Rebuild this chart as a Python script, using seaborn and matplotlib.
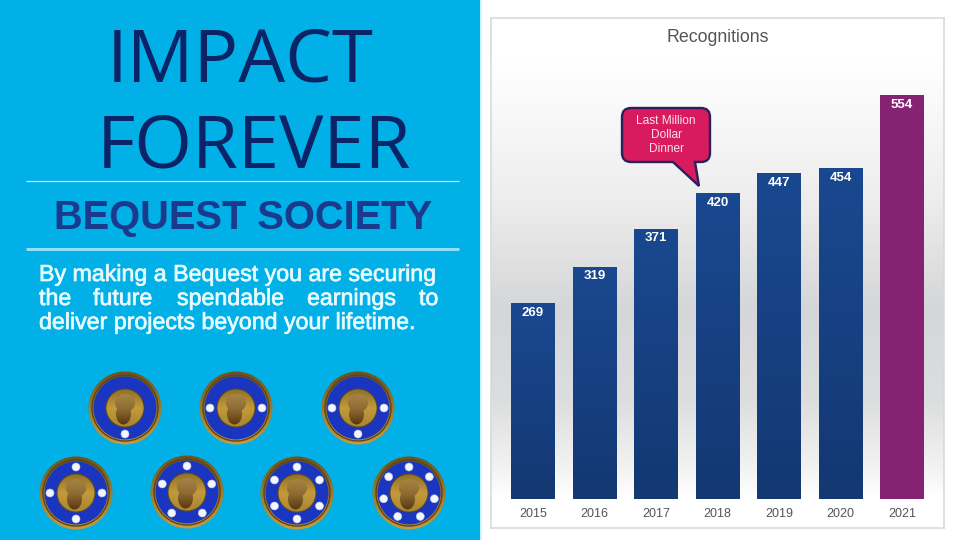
import numpy as np
import pandas as pd
import matplotlib
matplotlib.use("Agg")
import matplotlib.pyplot as plt
import matplotlib.patheffects as pe
from matplotlib.colors import LinearSegmentedColormap as LSC
from matplotlib.patches import Circle, Ellipse, PathPatch, Rectangle
from matplotlib.path import Path
import seaborn as sns

years = ["2015", "2016", "2017", "2018", "2019", "2020", "2021"]
recognitions = [269, 319, 371, 420, 447, 454, 554]
bar_colors = ["#18438A"] * 6 + ["#862272"]
title_lines = ["IMPACT", "FOREVER"]
subtitle = "BEQUEST SOCIETY"
body_line1 = "By making a Bequest you are securing"
body_line2 = ["the", "future", "spendable", "earnings", "to"]
body_line3 = "deliver projects beyond your lifetime."
callout_lines = ["Last Million", "Dollar", "Dinner"]
chart_title = "Recognitions"
medal_pearls = [1, 2, 3, 4, 5, 6, 7]

sns.set_theme(style="white")
plt.rcParams["font.family"] = ["Liberation Sans", "DejaVu Sans"]

fig = plt.figure(figsize=(9.6, 5.4), dpi=100, facecolor="white")
W, H = 960, 540

# ---- background layer in pixel coordinates
bg = fig.add_axes([0, 0, 1, 1], zorder=0)
bg.set_xlim(0, W); bg.set_ylim(H, 0); bg.axis("off")
bg.add_patch(Rectangle((0, 0), 480, 540, fc="#00B0E6", ec="none"))
bg.add_patch(Rectangle((480, 0), 1.5, 540, fc="#C8F4FF", ec="none"))
bg.plot([26, 459], [180.5, 180.5], color="#C4EAF6", lw=0.9, solid_capstyle="butt")
bg.plot([26, 459], [249, 249], color="#8FE0F8", lw=2.2, solid_capstyle="butt")

head = "#0B2467"
title_kw = dict(family="Open Sans", fontsize=53.5, color=head, va="baseline", ha="left")
bg.text(107, 82, title_lines[0], **title_kw)
bg.text(97, 167, title_lines[1], **title_kw)
bg.text(54, 229, subtitle, fontsize=28.7, fontweight="bold", color="#1A3A8E", va="baseline", ha="left")

body_kw = dict(fontsize=16.7, color="#E6FBFF", va="baseline", ha="left",
               path_effects=[pe.withStroke(linewidth=0.5, foreground="#E6FBFF")])
bg.text(39, 281, body_line1, **body_kw)
for word, x in zip(body_line2, [39, 93, 177, 307, 419]):
    bg.text(x, 305, word, **body_kw)
bg.text(39, 329, body_line3, **body_kw)

# ---- medals
medal_xy = [(125, 408), (236, 408), (358, 408), (76, 493), (187, 492), (297, 493), (409, 493)]
rim_cmap = LSC.from_list("rim", ["#6B5220", "#9A7A2C", "#C49C3E"])
gold_cmap = LSC.from_list("gold", ["#8F7028", "#C39A3C", "#A88530"])
head_cmap = LSC.from_list("head", ["#A98545", "#8E6B32", "#5A3612"])
grad = np.linspace(0, 1, 64)[:, None]


def pearl_angles(n):
    if n == 1:
        return [-90]
    if n == 2:
        return [0, 180]
    if n == 3:
        return [0, 180, -90]
    return [90 + 360 * i / n for i in range(n)]


def grad_fill(ax, patch, cmap, x0, x1, y0, y1, z):
    ax.add_patch(patch)
    patch.set_facecolor("none"); patch.set_edgecolor("none"); patch.set_zorder(z)
    im = ax.imshow(grad, cmap=cmap, extent=(x0, x1, y1, y0), origin="upper", aspect="auto", zorder=z)
    im.set_clip_path(patch)


for (cx, cy), n in zip(medal_xy, medal_pearls):
    grad_fill(bg, Circle((cx, cy), 36.5), rim_cmap, cx - 37, cx + 37, cy - 37, cy + 37, 2)
    bg.add_patch(Circle((cx, cy), 33, fc="none", ec="#5A4418", lw=1, zorder=3))
    bg.add_patch(Circle((cx, cy), 31.5, fc="#1A35C0", ec="none", zorder=3))
    bg.add_patch(Circle((cx, cy), 19.5, fc="#5F4A1C", ec="none", zorder=4))
    grad_fill(bg, Circle((cx, cy), 18.5), gold_cmap, cx - 19, cx + 19, cy - 19, cy + 19, 5)
    grad_fill(bg, Ellipse((cx, cy - 5), 20, 18), head_cmap, cx - 11, cx + 11, cy - 15, cy + 17, 6)
    grad_fill(bg, Ellipse((cx - 1.5, cy + 6), 15, 21), head_cmap, cx - 11, cx + 11, cy - 15, cy + 17, 6)
    for a in pearl_angles(n):
        r = np.deg2rad(a)
        bg.add_patch(Circle((cx + 26 * np.cos(r), cy - 26 * np.sin(r)), 4.0, fc="#F3F6FC", ec="#B9C4EE", lw=0.4, zorder=7))
bg.set_xlim(0, W); bg.set_ylim(H, 0)

# ---- chart panel and bars
left, right, top, bottom = 491, 944, 18, 528
ax = fig.add_axes([left / W, 1 - bottom / H, (right - left) / W, (bottom - top) / H], zorder=1)
df = pd.DataFrame({"year": years, "n": recognitions})
sns.barplot(data=df, x="year", y="n", hue="year", palette=bar_colors, legend=False,
            width=0.7, saturation=1, linewidth=0, edgecolor="none", ax=ax, zorder=3)
xl = (-0.683, 6.683)
yl = (-39.8, 660.2)
ax.set_xlim(*xl); ax.set_ylim(*yl)

panel_cmap = LSC.from_list("panel", [(0, "#FFFFFF"), (0.08, "#FFFFFF"), (0.16, "#FAFAFA"), (0.357, "#EDEDEE"),
                                     (0.57, "#D5D6D7"), (0.75, "#DCDDDE"), (0.886, "#F3F3F3"), (0.94, "#FFFFFF"), (1, "#FFFFFF")])
ax.imshow(np.linspace(0, 1, 256)[:, None], cmap=panel_cmap, extent=(*xl, yl[0], yl[1]),
          aspect="auto", origin="upper", zorder=0, vmin=0, vmax=1)
blue_cmap = LSC.from_list("bluebar", ["#133872", "#1A4890"])
for patch, n, col in zip(ax.patches, recognitions, bar_colors):
    if col == bar_colors[0]:
        b = patch.get_x(); w = patch.get_width()
        im = ax.imshow(np.linspace(0, 1, 64)[:, None], cmap=blue_cmap, origin="lower",
                       extent=(b, b + w, 0, n), aspect="auto", zorder=3.5)
        im.set_clip_path(patch)
ax.set_xlim(*xl); ax.set_ylim(*yl)

for i, n in enumerate(recognitions):
    ax.annotate(str(n), (i, n), xytext=(0, -7), textcoords="offset points", ha="center", va="center",
                color="white", fontsize=9.5, fontweight="bold", zorder=5)

ax.set_xlabel(""); ax.set_ylabel(""); ax.set_yticks([])
ax.tick_params(axis="x", length=0, pad=-14.5, labelsize=9, labelcolor="#555555")
for s in ax.spines.values():
    s.set_color("#D6D8D8"); s.set_linewidth(1.1)
ax.set_title("")

# ---- foreground layer
fg = fig.add_axes([0, 0, 1, 1], zorder=2)
fg.set_xlim(0, W); fg.set_ylim(H, 0); fg.axis("off"); fg.patch.set_alpha(0)
fg.text(718, 37, chart_title, fontsize=12.8, color="#555555", ha="center", va="center")
x0, x1, y0, y1, r = 622, 710, 108, 162, 9
verts = [(x0 + r, y0), (x1 - r, y0), (x1, y0), (x1, y0 + r), (x1, y1 - r), (x1, y1), (x1 - r, y1),
         (695, y1), (699, 186), (673, y1), (x0 + r, y1), (x0, y1), (x0, y1 - r), (x0, y0 + r), (x0, y0), (x0 + r, y0), (x0 + r, y0)]
codes = [Path.MOVETO, Path.LINETO, Path.CURVE3, Path.CURVE3, Path.LINETO, Path.CURVE3, Path.CURVE3,
         Path.LINETO, Path.LINETO, Path.LINETO, Path.LINETO, Path.CURVE3, Path.CURVE3, Path.LINETO,
         Path.CURVE3, Path.CURVE3, Path.CLOSEPOLY]
fg.add_patch(PathPatch(Path(verts, codes), fc="#D81B5C", ec="#2B1F5F", lw=1.7))
for line, y in zip(callout_lines, [121, 135.5, 149.5]):
    fg.text(666, y, line, fontsize=8.6, color="#F6E3EA", ha="center", va="center")

fig.savefig("out.png", dpi=100)
